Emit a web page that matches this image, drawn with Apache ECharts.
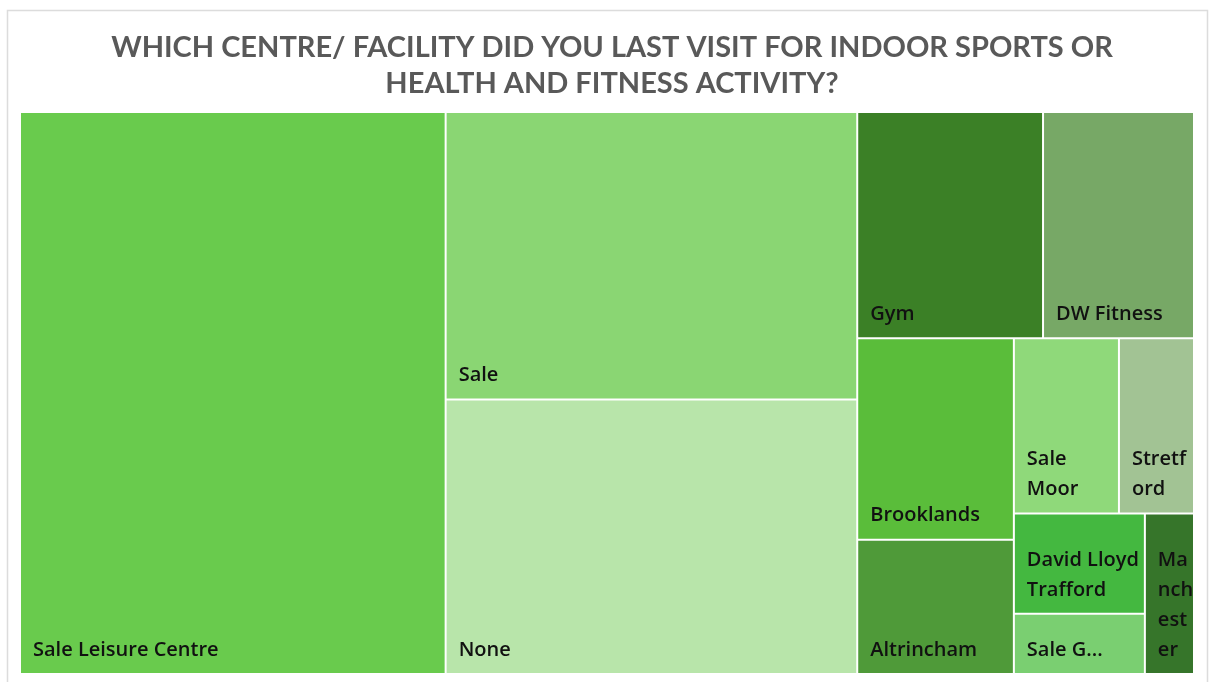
<!DOCTYPE html>
<html>
<head>
<meta charset="utf-8">
<script src="https://cdn.jsdelivr.net/npm/echarts@6/dist/echarts.min.js"></script>
<style>
  html, body { margin: 0; padding: 0; background: #ffffff; }
  #chart { width: 1209px; height: 682px; }
</style>
</head>
<body>
<div id="chart"></div>
<script>
// ---- data ----
const titleText = 'WHICH CENTRE/ FACILITY DID YOU LAST VISIT FOR INDOOR SPORTS OR\nHEALTH AND FITNESS ACTIVITY?';
// (ties listed so that the library's desc sort keeps Stretford before David Lloyd, Sale G before Manchester)
const categories = ['Sale Leisure Centre', 'Sale', 'None', 'Gym', 'DW Fitness', 'Brooklands',
  'Altrincham', 'Sale Moor', 'David Lloyd Trafford', 'Stretford', 'Manchester', 'Sale G...'];
const counts = [91, 45, 43, 16, 13, 12, 8, 7, 5, 5, 3, 3];
const tileColors = ['#69CB4D', '#8AD673', '#B8E5AA', '#3B8026', '#77A866', '#5ABD3A',
  '#4F9A39', '#8FD97A', '#44B840', '#A2C394', '#36752A', '#7ACF71'];

const seriesData = categories.map((name, i) => ({
  name: name,
  value: counts[i],
  itemStyle: { color: tileColors[i] }
}));

const chart = echarts.init(document.getElementById('chart'), null, { renderer: 'canvas' });
chart.setOption({
  animation: false,
  backgroundColor: '#ffffff',
  title: {
    text: titleText,
    left: 607,
    top: 25,
    textAlign: 'center',
    textStyle: {
      fontFamily: 'Lato',
      fontWeight: 'bold',
      fontSize: 29,
      lineHeight: 36,
      color: '#595959'
    }
  },
  graphic: [{
    type: 'rect',
    shape: { x: 7.5, y: 10.5, width: 1200, height: 700 },
    style: { fill: null, stroke: '#dcdcdc', lineWidth: 1.5 },
    silent: true,
    z: -1
  }],
  series: [{
    type: 'treemap',
    left: 21,
    top: 113,
    width: 1172,
    height: 560,
    squareRatio: 1.3,
    roam: false,
    nodeClick: false,
    breadcrumb: { show: false },
    sort: 'desc',
    visibleMin: 0,
    levels: [
      { itemStyle: { borderWidth: 0, gapWidth: 2, borderColor: '#ffffff' } },
      { itemStyle: { borderWidth: 0, gapWidth: 0 } }
    ],
    label: {
      show: true,
      position: 'insideBottomLeft',
      distance: 11,
      offset: [-4, 8],
      fontFamily: 'Open Sans',
      fontWeight: 600,
      fontSize: 20,
      lineHeight: 30,
      color: '#111111',
      overflow: 'break'
    },
    upperLabel: { show: false },
    data: seriesData
  }]
});
</script>
</body>
</html>
